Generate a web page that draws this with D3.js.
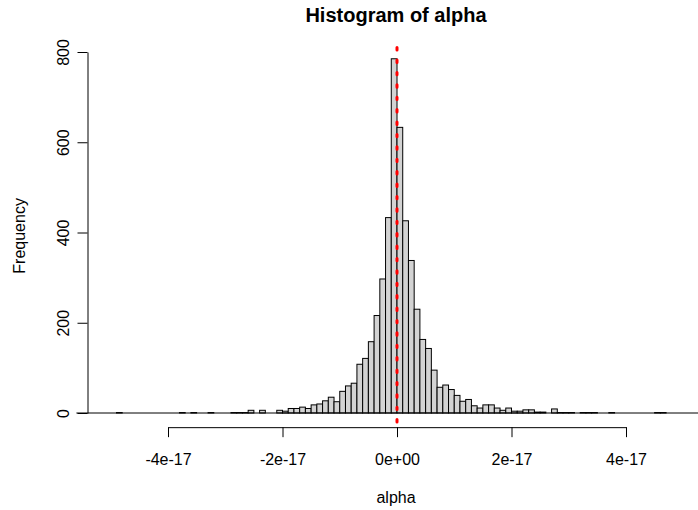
<!DOCTYPE html>
<html>
<head>
<meta charset="utf-8">
<script src="https://cdn.jsdelivr.net/npm/d3@7"></script>
<style>
  html, body { margin: 0; padding: 0; background: #fff; }
  svg { display: block; }
  text { font-family: "Liberation Sans", Arial, sans-serif; fill: #000; }
</style>
</head>
<body>
<svg id="chart" width="698" height="510"></svg>
<script>
// Histogram bins: width 1e-18, first bin starts at -56e-18
const binWidth = 1e-18;
const firstBinStart = -56e-18;
const counts = [
  0, 0, 0, 0, 0, 0, 0,            // -56 .. -50
  1, 0, 0, 0, 0, 0, 0, 0, 0, 0, 0, // -49 .. -39
  1, 0, 1, 0, 0, 1, 0, 0, 0,      // -38 .. -30
  1, 1, 1, 6, 0, 6, 0, 0,         // -29 .. -22
  6, 4, 10, 10, 13, 10, 18, 20,   // -21 .. -14
  27, 35, 25, 48, 60, 66, 108,    // -13 .. -7
  121, 158, 216, 297, 433, 785,   // -6 .. -1
  633, 426, 338, 230, 163, 143,   // 0 .. 5
  95, 57, 62, 52, 39, 26, 30,     // 6 .. 12
  16, 11, 18, 18, 11, 6, 11,      // 13 .. 19
  4, 4, 7, 7, 2, 2, 0, 9,         // 20 .. 27
  1, 1, 1, 0, 1, 1, 1, 0, 0, 1,   // 28 .. 37
  0, 0, 0, 0, 0, 0, 0, 1, 1,      // 38 .. 46
  0, 0, 0, 0, 0, 0, 0             // 47 .. 53
];
const meanAlpha = 0;

const xTickValues = [-4e-17, -2e-17, 0, 2e-17, 4e-17];
const xTickLabels = ["-4e-17", "-2e-17", "0e+00", "2e-17", "4e-17"];
const yTickValues = [0, 200, 400, 600, 800];
const yTickLabels = ["0", "200", "400", "600", "800"];

const bins = counts.map((c, i) => ({
  x0: firstBinStart + i * binWidth,
  x1: firstBinStart + (i + 1) * binWidth,
  count: c
}));

const svg = d3.select("#chart");

// Scales: plot region in pixels
const x = d3.scaleLinear().domain([-4e-17, 4e-17]).range([168, 626]);
const y = d3.scaleLinear().domain([0, 800]).range([413, 52]);
const plotTop = y(816.4), plotBottom = y(-31.4);

// Bars (empty bins collapse onto the zero line drawn below)
svg.append("g")
  .selectAll("rect")
  .data(bins.filter(d => d.count > 0))
  .join("rect")
  .attr("x", d => x(d.x0))
  .attr("y", d => y(d.count))
  .attr("width", d => x(d.x1) - x(d.x0))
  .attr("height", d => y(0) - y(d.count))
  .attr("fill", "#d3d3d3")
  .attr("stroke", "#000")
  .attr("stroke-width", 1);

// Zero line spanning all bins
svg.append("line")
  .attr("x1", x(bins[0].x0))
  .attr("x2", x(bins[bins.length - 1].x1))
  .attr("y1", y(0)).attr("y2", y(0))
  .attr("stroke", "#000")
  .attr("stroke-width", 1);

// Mean line
svg.append("line")
  .attr("x1", x(meanAlpha)).attr("x2", x(meanAlpha))
  .attr("y1", plotTop + 3).attr("y2", plotBottom)
  .attr("stroke", "#f00")
  .attr("stroke-width", 3)
  .attr("stroke-linecap", "round")
  .attr("stroke-dasharray", "2.4 10");

// X axis
const xAxis = d3.axisBottom(x)
  .tickValues(xTickValues)
  .tickFormat((d, i) => xTickLabels[i])
  .tickSize(10)
  .tickSizeOuter(0)
  .tickPadding(16);
const gx = svg.append("g")
  .attr("transform", `translate(0,${plotBottom})`)
  .call(xAxis);
gx.select(".domain").attr("stroke", "#000");
gx.selectAll(".tick line").attr("stroke", "#000");
gx.selectAll(".tick text")
  .attr("font-size", 16)
  .attr("font-family", "Liberation Sans, Arial, sans-serif")
  .attr("fill", "#000");

// Y axis
const yAxis = d3.axisLeft(y)
  .tickValues(yTickValues)
  .tickFormat((d, i) => yTickLabels[i])
  .tickSize(10)
  .tickSizeOuter(0);
const gy = svg.append("g")
  .attr("transform", "translate(87.5,0)")
  .call(yAxis);
gy.select(".domain").attr("stroke", "#000");
gy.selectAll(".tick line").attr("stroke", "#000");
gy.selectAll(".tick text")
  .attr("font-size", 16)
  .attr("font-family", "Liberation Sans, Arial, sans-serif")
  .attr("fill", "#000")
  .attr("text-anchor", "middle")
  .attr("dy", null)
  .attr("x", null)
  .attr("transform", "translate(-19,0) rotate(-90)");

// Title
svg.append("text")
  .attr("x", 396).attr("y", 22)
  .attr("text-anchor", "middle")
  .attr("font-size", 20)
  .attr("font-weight", "bold")
  .text("Histogram of alpha");

// Axis titles
svg.append("text")
  .attr("x", 396).attr("y", 503)
  .attr("text-anchor", "middle")
  .attr("font-size", 16)
  .text("alpha");

svg.append("text")
  .attr("transform", `translate(25,${(plotTop + plotBottom) / 2}) rotate(-90)`)
  .attr("text-anchor", "middle")
  .attr("font-size", 16)
  .text("Frequency");
</script>
</body>
</html>
